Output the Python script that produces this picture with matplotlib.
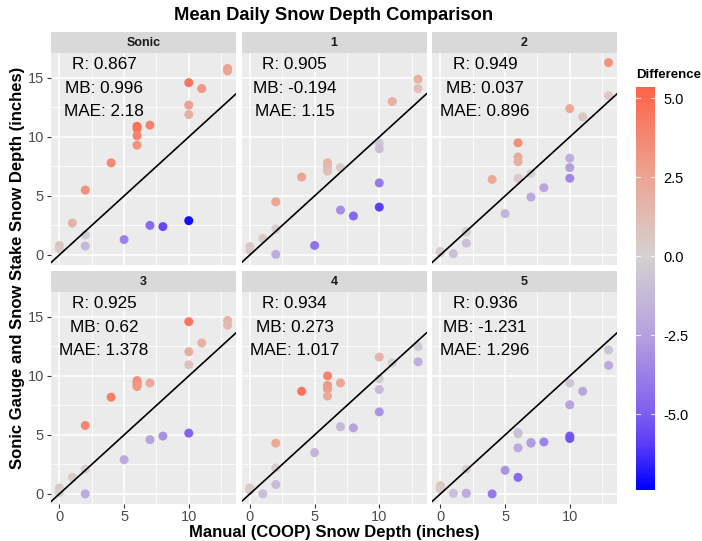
import numpy as np
import matplotlib
matplotlib.use("Agg")
from matplotlib import pyplot as plt
from matplotlib.colors import LinearSegmentedColormap, Normalize

plt.rcParams['font.family'] = ['Liberation Sans', 'DejaVu Sans']

# data
panel_names = ["Sonic", "1", "2", "3", "4", "5"]
manual_x = [0, 0, 1, 2, 2, 2, 4, 5, 6, 6, 6, 6, 7, 7, 8, 10, 10, 10, 10, 11, 13, 13]

sonic_y = [0.8, 0.5, 2.7, 1.7, 0.75, 5.5, 7.8, 1.3, 10.9, 10.7, 10.1, 9.3, 11.0, 2.5, 2.4, 14.6, 12.7, 11.9, 2.9, 14.1, 15.8, 15.6]
stake1_y = [0.7, 0.4, 1.4, 2.2, 4.5, 0.05, 6.6, 0.8, 7.8, 7.5, 7.2, 7.1, 7.4, 3.8, 3.3, 9.5, 9.0, 6.1, 4.05, 13.0, 14.9, 14.1]
stake2_y = [0.3, 0.2, 0.1, 2.0, 1.9, 1.0, 6.4, 3.5, 9.5, 8.3, 7.9, 6.5, 6.9, 4.9, 5.7, 12.4, 8.2, 7.4, 6.5, 11.7, 16.3, 13.5]
stake3_y = [0.5, 0.1, 1.4, 2.1, 5.8, 0.0, 8.2, 2.9, 9.6, 9.4, 9.2, 9.1, 9.4, 4.6, 4.9, 14.6, 12.05, 10.95, 5.15, 12.8, 14.7, 14.3]
stake4_y = [0.5, 0.3, 0.0, 2.2, 4.3, 0.8, 8.7, 3.5, 10.0, 9.2, 8.9, 8.3, 9.4, 5.7, 5.6, 11.6, 9.75, 8.85, 6.95, 11.1, 12.5, 11.2]
stake5_y = [0.7, 0.4, 0.05, 2.1, 0.05, 0.05, 0.0, 2.0, 5.2, 5.1, 3.9, 1.4, 4.35, 4.3, 4.4, 9.4, 7.55, 4.9, 4.7, 8.7, 12.2, 10.9]
panel_y = [sonic_y, stake1_y, stake2_y, stake3_y, stake4_y, stake5_y]

stat_r = ["0.867", "0.905", "0.949", "0.925", "0.934", "0.936"]
stat_mb = ["0.996", "-0.194", "0.037", "0.62", "0.273", "-1.231"]
stat_mae = ["2.18", "1.15", "0.896", "1.378", "1.017", "1.296"]

cbar_ticks = [-5.0, -2.5, 0.0, 2.5, 5.0]
diff_lo, diff_hi = -7.4, 5.35

# colour scale (blue -> grey -> tomato, purple-ish on the way like ggplot's Lab blend)
def pos(v):
    return (v - diff_lo) / (diff_hi - diff_lo)
cmap = LinearSegmentedColormap.from_list("diff", [
    (0.0, "#0000FF"), (pos(-6.0), "#5A3CF8"), (pos(-5.0), "#7E5FF0"),
    (pos(-2.5), "#B6A2E0"), (pos(0.0), "#D5D2D2"), (pos(2.5), "#ECA695"),
    (1.0, "#FF6448")])
norm = Normalize(vmin=diff_lo, vmax=diff_hi)

W, H = 702, 541
def box(l, t, w, h):
    return [l / W, 1 - (t + h) / H, w / W, h / H]

fig = plt.figure(figsize=(7.02, 5.41), dpi=100)

col_left = [51, 241.5, 432]
pw = 185
strip_top = [32, 271]
plot_top = [53, 292]
ph = 211.5
xlim = (-0.65, 13.65)
ylim = (-0.815, 17.115)

for i, name in enumerate(panel_names):
    r, c = divmod(i, 3)
    ax = fig.add_axes(box(col_left[c], plot_top[r], pw, ph))
    ax.set_facecolor("#EBEBEB")
    for s in ax.spines.values():
        s.set_visible(False)
    ax.set_xlim(*xlim)
    ax.set_ylim(*ylim)
    ax.set_xticks([0, 5, 10])
    ax.set_yticks([0, 5, 10, 15])
    ax.set_xticks([2.5, 7.5, 12.5], minor=True)
    ax.set_yticks([2.5, 7.5, 12.5], minor=True)
    ax.grid(True, which="major", color="white", lw=1.1, zorder=0)
    ax.grid(True, which="minor", color="white", lw=0.55, zorder=0)
    ax.set_axisbelow(True)
    ax.tick_params(which="minor", length=0)
    ax.tick_params(which="major", length=3, width=0.8, color="#333333",
                   labelsize=10.5, labelcolor="#4D4D4D", pad=2)
    if c != 0:
        ax.tick_params(axis="y", length=0, labelleft=False)
    if r != 1:
        ax.tick_params(axis="x", length=0, labelbottom=False)

    xs = np.array(manual_x)
    ys = np.array(panel_y[i])
    ax.scatter(xs, ys, c=ys - xs, cmap=cmap, norm=norm, s=42, linewidths=0, zorder=2)
    ax.axline((0, 0), slope=1, color="black", lw=1.2, zorder=3)

    for yy, txt in zip([16.15, 14.1, 12.15],
                       ["R: " + stat_r[i], "MB: " + stat_mb[i], "MAE: " + stat_mae[i]]):
        ax.text(3.45, yy, txt, ha="center", va="center", fontsize=12.3, color="black")

    sax = fig.add_axes(box(col_left[c], strip_top[r], pw, 21))
    sax.set_facecolor("#D9D9D9")
    for s in sax.spines.values():
        s.set_visible(False)
    sax.set_xticks([])
    sax.set_yticks([])
    sax.text(0.5, 0.48, name, ha="center", va="center", fontsize=9,
             fontweight="bold", color="#1A1A1A", transform=sax.transAxes)

# colour bar
cax = fig.add_axes(box(636, 87, 19, 403))
grad = np.linspace(diff_lo, diff_hi, 300)[:, None]
cax.imshow(grad, aspect="auto", origin="lower", cmap=cmap, norm=norm,
           extent=(0, 1, diff_lo, diff_hi))
cax.set_xlim(0, 1)
cax.set_ylim(diff_lo, diff_hi)
for s in cax.spines.values():
    s.set_visible(False)
cax.set_xticks([])
cax.yaxis.tick_right()
cax.set_yticks(cbar_ticks)
cax.set_yticklabels(["%.1f" % t for t in cbar_ticks])
cax.tick_params(axis="y", length=0, labelsize=10.5, pad=6, labelcolor="black")
for t in cbar_ticks:
    cax.plot([0, 0.2], [t, t], color="white", lw=0.8, alpha=0.8)
    cax.plot([0.8, 1], [t, t], color="white", lw=0.8, alpha=0.8)
fig.text(636 / W, 1 - 75 / H, "Difference", ha="left", va="center",
         fontsize=9.5, fontweight="bold")

fig.text(334 / W, 1 - 15 / H, "Mean Daily Snow Depth Comparison", ha="center",
         va="center", fontsize=13.2, fontweight="bold")
fig.text(334 / W, 1 - 532 / H, "Manual (COOP) Snow Depth (inches)", ha="center",
         va="center", fontsize=12, fontweight="bold")
fig.text(17.5 / W, 1 - 268 / H, "Sonic Gauge and Snow Stake Snow Depth (inches)",
         ha="center", va="center", rotation=90, fontsize=12, fontweight="bold")

fig.savefig("out.png", dpi=100, facecolor="white")
